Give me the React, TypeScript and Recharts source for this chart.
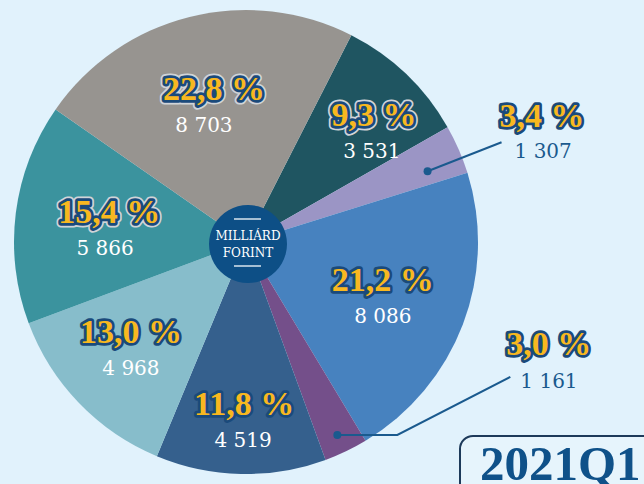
import React from 'react';
import { PieChart, Pie, Cell, Customized } from 'recharts';

// ---- data ----
const segments = ['S1', 'S2', 'S3', 'S4', 'S5', 'S6', 'S7', 'S8'];
const values = [3531, 1307, 8086, 1161, 4519, 4968, 5866, 8703];
const colors = ['#1f5561', '#9b95c5', '#4782bf', '#744f8a', '#35608d', '#87bdcb', '#3b939e', '#979490'];
const centerLines = ['MILLIÁRD', 'FORINT'];
const periodLabel = '2021Q1';

// label layout (style, not data)
type Lay = { r: number; da: number; valDx: number; halo: boolean; ext?: number };
const labelLayout: Lay[] = [
  { r: 0.70, da: 8.3, valDx: -2, halo: true },
  { r: 0.84, da: 2.2, valDx: 0, halo: false, ext: 1 },
  { r: 0.653, da: 4.6, valDx: 0, halo: false },
  { r: 0.92, da: 0.2, valDx: 0, halo: false, ext: 2 },
  { r: 0.815, da: -0.7, valDx: -1, halo: false },
  { r: 0.707, da: -1.5, valDx: 0, halo: false },
  { r: 0.59, da: -5.9, valDx: -4, halo: true },
  { r: 0.56, da: -0.2, valDx: -10, halo: true },
];

const data = segments.map((name, i) => ({ name, value: values[i] }));
const total = values.reduce((a, b) => a + b, 0);
const RAD = Math.PI / 180;

const YELLOW = '#f8b820';
const NAVY = '#1a4a7b';
const PCT_FONT = '"Liberation Serif", serif';
const VAL_FONT = '"DejaVu Serif", serif';

const fmtPct = (v: number) => ((v / total) * 100).toFixed(1).replace('.', ',') + ' %';
const fmtVal = (v: number) => String(v).replace(/\B(?=(\d{3})+(?!\d))/g, ' ');

function PctText({ x, y, text, anchor, halo }: { x: number; y: number; text: string; anchor: string; halo: boolean }) {
  const common = {
    x,
    y,
    textAnchor: anchor as any,
    fontFamily: PCT_FONT,
    fontWeight: 700,
    fontSize: 34,
    strokeLinejoin: 'round' as const,
  };
  return (
    <g>
      {halo && (
        <text {...common} fill="#d0d4d8" stroke="#d0d4d8" strokeWidth={9}>
          {text}
        </text>
      )}
      <text {...common} fill={YELLOW} stroke={NAVY} strokeWidth={5.5} paintOrder="stroke">
        {text}
      </text>
    </g>
  );
}

const renderLabel = (props: any) => {
  const { cx, cy, midAngle, outerRadius, index, value } = props;
  const L = labelLayout[index];
  const ang = (midAngle - L.da) * RAD;
  const r = outerRadius * L.r;
  const ax = cx + r * Math.cos(ang);
  const ay = cy - r * Math.sin(ang);
  const pct = fmtPct(value);
  const val = fmtVal(value);
  if (L.ext === 1) {
    const ex = ax + 74;
    const ey = ay - 29;
    return (
      <g key={'l' + index}>
        <line x1={ax} y1={ay} x2={ex} y2={ey} stroke="#1a5a8e" strokeWidth={2} />
        <circle cx={ax} cy={ay} r={4} fill="#1a5a8e" />
        <PctText x={ex - 2} y={ey - 15} text={pct} anchor="start" halo={false} />
        <text x={ex + 13} y={ey + 16} fontFamily={VAL_FONT} fontSize={20} fill="#1a5a8e">
          {val}
        </text>
      </g>
    );
  }
  if (L.ext === 2) {
    const mx = ax + 60;
    const ex = ax + 173;
    const ey = ay - 58;
    return (
      <g key={'l' + index}>
        <polyline points={`${ax},${ay} ${mx},${ay} ${ex},${ey}`} fill="none" stroke="#1a5a8e" strokeWidth={2} />
        <circle cx={ax} cy={ay} r={4} fill="#1a5a8e" />
        <PctText x={ex - 4} y={ey - 22} text={pct} anchor="start" halo={false} />
        <text x={ex + 10} y={ey + 11} fontFamily={VAL_FONT} fontSize={20} fill="#1a5a8e">
          {val}
        </text>
      </g>
    );
  }
  return (
    <g key={'l' + index}>
      <PctText x={ax} y={ay - 16} text={pct} anchor="middle" halo={L.halo} />
      <text x={ax + L.valDx} y={ay + 16} textAnchor="middle" fontFamily={VAL_FONT} fontSize={20} fill="#ffffff">
        {val}
      </text>
    </g>
  );
};

const renderCenter = (props: any) => {
  const { cx, cy } = props;
  return (
    <g key="center">
      <line x1={cx - 14} y1={cy - 25} x2={cx + 13} y2={cy - 25} stroke="#d8e4ee" strokeWidth={1.5} />
      <text x={cx} y={cy - 4} textAnchor="middle" fontFamily={VAL_FONT} fontSize={12} fill="#ffffff">
        {centerLines[0]}
      </text>
      <text x={cx} y={cy + 13} textAnchor="middle" fontFamily={VAL_FONT} fontSize={12} fill="#ffffff">
        {centerLines[1]}
      </text>
      <line x1={cx - 14} y1={cy + 22} x2={cx + 13} y2={cy + 22} stroke="#d8e4ee" strokeWidth={1.5} />
    </g>
  );
};

const PeriodBox = () => (
  <g>
    <rect x={460} y={436} width={220} height={80} rx={13} ry={13} fill="#e6f4fc" stroke="#1d3a5a" strokeWidth={2} />
    <text x={480} y={480} fontFamily={PCT_FONT} fontWeight={700} fontSize={49} fill="#0f5189">
      {periodLabel}
    </text>
  </g>
);

export default function App() {
  return (
    <div style={{ position: 'absolute', left: 0, top: 0, width: 644, height: 484, background: '#e1f2fc', overflow: 'hidden' }}>
      <PieChart width={644} height={484} margin={{ top: 0, right: 0, bottom: 0, left: 0 }}>
        <Pie
          data={data}
          dataKey="value"
          nameKey="name"
          cx={246}
          cy={242}
          outerRadius={232}
          startAngle={63}
          endAngle={-297}
          stroke="none"
          label={renderLabel}
          labelLine={false}
          isAnimationActive={false}
        >
          {data.map((d, i) => (
            <Cell key={d.name} fill={colors[i]} />
          ))}
        </Pie>
        <Pie
          data={[{ name: 'center', value: 1 }]}
          dataKey="value"
          cx={248}
          cy={244}
          outerRadius={39}
          stroke="none"
          fill="#0d4f86"
          label={renderCenter}
          labelLine={false}
          isAnimationActive={false}
        />
        <Customized component={PeriodBox} />
      </PieChart>
    </div>
  );
}
